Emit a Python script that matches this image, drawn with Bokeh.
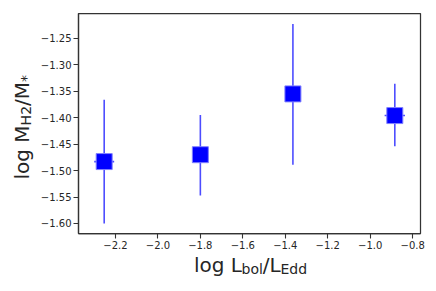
import numpy as np
from bokeh.plotting import figure
from bokeh.models import Label, FixedTicker, ColumnDataSource, Range1d
from bokeh.layouts import row, column
from bokeh.embed import file_html
from bokeh.resources import INLINE

# ---- data ----
log_edd = [-2.253, -1.800, -1.364, -0.884]
log_mh2 = [-1.483, -1.470, -1.355, -1.396]
err_hi = [-1.366, -1.395, -1.223, -1.336]
err_lo = [-1.600, -1.547, -1.489, -1.454]
xerr = [0.047, 0.02, 0.02, 0.048]

x_ticks = [-2.2, -2.0, -1.8, -1.6, -1.4, -1.2, -1.0, -0.8]
x_tick_labels = ["\u22122.2", "\u22122.0", "\u22121.8", "\u22121.6", "\u22121.4", "\u22121.2", "\u22121.0", "\u22120.8"]
y_ticks = [-1.60, -1.55, -1.50, -1.45, -1.40, -1.35, -1.30, -1.25]
y_tick_labels = ["\u22121.60", "\u22121.55", "\u22121.50", "\u22121.45", "\u22121.40", "\u22121.35", "\u22121.30", "\u22121.25"]

FONT = "DejaVu Sans"
AX = "#333333"
TXT = "#262626"
W_TOT, H_TOT = 436, 291
YL_W = 37          # width of the y-label strip
P_H = 255          # height of the main plot
XL_H = H_TOT - P_H
FR_L, FR_R = 75, 420   # frame left/right on the canvas
BL, BR = FR_L - YL_W, W_TOT - FR_R
SHIFT = 7          # baseline correction for rendered text

p = figure(width=W_TOT - YL_W, height=P_H, output_backend="svg", toolbar_location=None,
           x_range=Range1d(-2.374, -0.763), y_range=Range1d(-1.619, -1.203),
           min_border_left=BL, min_border_right=BR, min_border_top=13, min_border_bottom=P_H - 233)
p.xgrid.visible = False
p.ygrid.visible = False
p.outline_line_color = AX
p.outline_line_width = 1.25

for ax, ticks, labels in ((p.xaxis[0], x_ticks, x_tick_labels), (p.yaxis[0], y_ticks, y_tick_labels)):
    ax.ticker = FixedTicker(ticks=ticks, minor_ticks=[])
    ax.major_label_overrides = {t: l for t, l in zip(ticks, labels)}
    ax.axis_line_color = AX
    ax.axis_line_width = 1.25
    ax.major_tick_line_color = AX
    ax.major_tick_line_width = 1.1
    ax.major_tick_out = 5
    ax.major_tick_in = 0
    ax.minor_tick_out = 0
    ax.minor_tick_in = 0
    ax.major_label_text_font = FONT
    ax.major_label_text_font_size = "10px"
    ax.major_label_text_color = TXT
    ax.major_label_standoff = 2
    ax.axis_label = None

src = ColumnDataSource(dict(x=log_edd, y=log_mh2, hi=err_hi, lo=err_lo,
                            xl=[a - e for a, e in zip(log_edd, xerr)],
                            xr=[a + e for a, e in zip(log_edd, xerr)]))
p.segment(x0="x", y0="lo", x1="x", y1="hi", source=src, line_color="blue", line_alpha=0.7, line_width=1.6)
p.segment(x0="xl", y0="y", x1="xr", y1="y", source=src, line_color="blue", line_alpha=0.7, line_width=1.6)
p.scatter(x="x", y="y", source=src, marker="square", size=16, fill_color="blue",
          line_color="#8080ff", line_width=1)


def strip(w, h, x0, y0, bl=0, br=0):
    """Blank figure whose frame data coordinates equal canvas pixel coordinates (y downward)."""
    fw = w - bl - br
    f = figure(width=w, height=h, output_backend="svg", toolbar_location=None,
               x_range=Range1d(x0 + bl, x0 + bl + fw), y_range=Range1d(y0 + h, y0),
               x_axis_type=None, y_axis_type=None,
               min_border=0, min_border_left=bl, min_border_right=br, min_border_top=0, min_border_bottom=0)
    f.xgrid.visible = False
    f.ygrid.visible = False
    f.outline_line_color = None
    return f


ylf = strip(YL_W, H_TOT, 0, 0)
xlf = strip(W_TOT - YL_W, XL_H, YL_W, P_H, BL, BR)

# ---- axis labels composed of runs (DejaVu Sans advance widths /1000 em) ----
W = {"l": 278, "o": 612, "g": 635, " ": 318, "L": 557, "b": 635, "/": 337, "E": 632,
     "d": 635, "M": 863, "H": 752, "2": 636, "*": 500}


def width(s, size):
    return sum(W[c] for c in s) * size / 1000.0


def runs(fig, parts, start, base, rotated):
    pos = start
    for text, sub in parts:
        size = 14 if sub else 20
        off = 4 if sub else 0
        if rotated:
            lab = Label(x=base + off, y=pos, text=text, angle=np.pi / 2,
                        text_align="left", text_baseline="alphabetic",
                        text_font=FONT, text_font_size=f"{size}px", text_color=TXT)
            pos -= width(text, size)
        else:
            lab = Label(x=pos, y=base + off, text=text,
                        text_align="left", text_baseline="alphabetic",
                        text_font=FONT, text_font_size=f"{size}px", text_color=TXT)
            pos += width(text, size)
        fig.add_layout(lab)


runs(xlf, [("log L", False), ("bol", True), ("/L", False), ("Edd", True)], 191.5, 271.5 - SHIFT, False)
runs(ylf, [("log M", False), ("H2", True), ("/M", False), ("*", True)], 179, 28.3 - SHIFT, True)

layout = row(ylf, column(p, xlf))
open("out.html", "w").write(file_html(layout, INLINE))
